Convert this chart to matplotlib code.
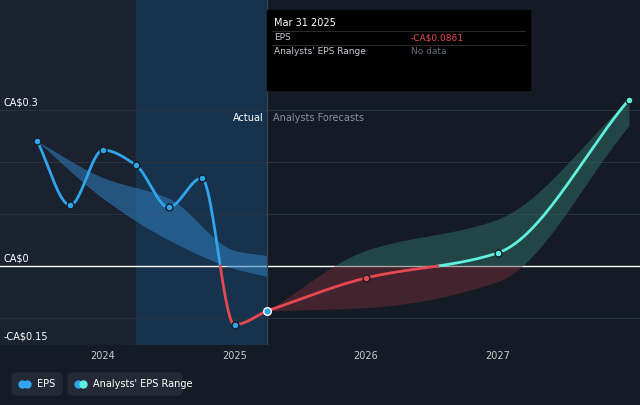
import matplotlib.pyplot as plt
import numpy as np
from matplotlib.patches import Rectangle, FancyBboxPatch

# data
act_x = [2023.5, 2023.75, 2024.0, 2024.25, 2024.5, 2024.75, 2025.0, 2025.25]
act_y = [0.24, 0.117, 0.223, 0.194, 0.113, 0.169, -0.113, -0.0861]
fc_x = [2025.25, 2026.0, 2027.0, 2028.0]
fc_y = [-0.0861, -0.023, 0.025, 0.32]
band_a_x = [2023.5, 2024.0, 2024.5, 2025.0, 2025.25]
band_a_hi = [0.24, 0.17, 0.13, 0.03, 0.02]
band_a_lo = [0.24, 0.13, 0.05, -0.005, -0.02]
band_f_x = [2025.25, 2026.0, 2027.0, 2028.0]
band_f_hi = [-0.0861, 0.03, 0.09, 0.32]
band_f_lo = [-0.0861, -0.08, -0.03, 0.27]
yticks = [-0.15, 0, 0.3]
ytick_labels = ["-CA$0.15", "CA$0", "CA$0.3"]
xticks = [2024, 2025, 2026, 2027]


def smooth(x, y, n=300):
    # monotone cubic (Fritsch-Carlson)
    x = np.asarray(x, float); y = np.asarray(y, float)
    h = np.diff(x); d = np.diff(y) / h
    m = np.zeros_like(y)
    m[0], m[-1] = d[0], d[-1]
    for i in range(1, len(x) - 1):
        if d[i-1] * d[i] > 0:
            m[i] = 2 / (1 / d[i-1] + 1 / d[i])
    t = np.linspace(x[0], x[-1], n)
    out = np.empty_like(t)
    for i, tv in enumerate(t):
        k = min(np.searchsorted(x, tv, side='right') - 1, len(x) - 2)
        s = (tv - x[k]) / h[k]
        h00 = 2*s**3 - 3*s**2 + 1; h10 = s**3 - 2*s**2 + s
        h01 = -2*s**3 + 3*s**2; h11 = s**3 - s**2
        out[i] = h00*y[k] + h10*h[k]*m[k] + h01*y[k+1] + h11*h[k]*m[k+1]
    return t, out


bg = '#151b24'
fig = plt.figure(figsize=(6.4, 4.05), dpi=100, facecolor=bg)
ax = fig.add_axes([0.0, 1 - 345/405, 1.0, 345/405])
ax.set_facecolor(bg)
x0 = 2024 - 103/131.5
x1 = x0 + 640/131.5
ax.set_xlim(x0, x1)
ax.set_ylim(-(345 - 266) * 0.3 / 156, 266 * 0.3 / 156)

# shaded actual region
ax.axvspan(x0, 2024.25, color='#1a2230', zorder=0)
ax.axvspan(2024.25, 2025.25, color='#16324c', zorder=0)

for v in [0.3, 0.2, 0.1, -0.1]:
    ax.axhline(v, color='#2a323d', lw=0.7, zorder=1)
ax.axhline(0, color='white', lw=1.0, zorder=2)

t, hi = smooth(band_a_x, band_a_hi); _, lo = smooth(band_a_x, band_a_lo)
ax.fill_between(t, lo, hi, color='#2f7fc0', alpha=0.55, lw=0, zorder=2)
t, hi = smooth(band_f_x, band_f_hi); _, lo = smooth(band_f_x, band_f_lo)
ax.fill_between(t, np.maximum(lo, 0), np.maximum(hi, 0), color='#2e6b62', alpha=0.55, lw=0, zorder=2)
ax.fill_between(t, np.minimum(lo, 0), np.minimum(hi, 0), color='#6a2a35', alpha=0.55, lw=0, zorder=2)


def colored(x, y, pos_color, neg_color):
    t, s = smooth(x, y, 500)
    ax.plot(t, np.where(s >= 0, s, np.nan), color=pos_color, lw=2, zorder=4)
    ax.plot(t, np.where(s <= 0, s, np.nan), color=neg_color, lw=2, zorder=4)


colored(act_x, act_y, '#2fa5ee', '#e8484f')
colored(fc_x, fc_y, '#5ff0e0', '#e8484f')
for xx, yy in zip(act_x[:-1], act_y[:-1]):
    ax.scatter(xx, yy, s=25, color='#2fa5ee', edgecolor=bg, lw=1, zorder=5)
for xx, yy in zip(fc_x[1:], fc_y[1:]):
    ax.scatter(xx, yy, s=25, color='#5ff0e0' if yy > 0 else '#e8484f', edgecolor=bg, lw=1, zorder=5)
ax.scatter(fc_x[0], fc_y[0], s=30, color='#2fa5ee', edgecolor='white', lw=1, zorder=6)

ax.axvline(2025.25, color='#3a4350', lw=0.8, zorder=3)
ax.text(2025.22, 0.285, "Actual", color='white', fontsize=7, ha='right', va='center')
ax.text(2025.29, 0.285, "Analysts Forecasts", color='#8a919a', fontsize=7, ha='left', va='center')

for v, lab in zip(yticks, ytick_labels):
    ax.text(x0 + 0.03, v + 0.004, lab, color='white', fontsize=7, va='bottom')
ax.set_xticks(xticks)
ax.set_xticklabels([str(x) for x in xticks])
ax.tick_params(axis='x', colors='#c8ccd2', labelsize=7, length=0, pad=4)
ax.set_yticks([])
for s in ax.spines.values():
    s.set_visible(False)

# tooltip
fig.patches.append(Rectangle((267/640, 1 - 90/405), 263/640, 80/405, transform=fig.transFigure,
                             color='black', zorder=10))
fig.text(274/640, 1 - 23/405, "Mar 31 2025", color='white', fontsize=7, zorder=11, va='center')
fig.text(274/640, 1 - 38/405, "EPS", color='#c8ccd2', fontsize=6.5, zorder=11, va='center')
fig.text(411/640, 1 - 38/405, "-CA$0.0861", color='#e8484f', fontsize=6.5, zorder=11, va='center')
fig.text(274/640, 1 - 51/405, "Analysts' EPS Range", color='#c8ccd2', fontsize=6.5, zorder=11, va='center')
fig.text(411/640, 1 - 51/405, "No data", color='#6a7079', fontsize=6.5, zorder=11, va='center')
for yy in [31, 45]:
    fig.add_artist(plt.Line2D([272/640, 525/640], [1 - yy/405] * 2, color='#333', lw=0.6, zorder=11))

# legend
for (lx, w, lab, c1, c2) in [(12, 50, "EPS", '#2fa5ee', '#2fa5ee'),
                              (68, 114, "Analysts' EPS Range", '#2fa5ee', '#5ff0e0')]:
    fig.patches.append(FancyBboxPatch((lx/640, 1 - 395/405), w/640, 22/405, transform=fig.transFigure,
                                      boxstyle='round,pad=0,rounding_size=0.008', color='#232a35'))
    fig.add_artist(plt.Line2D([(lx + 10)/640], [1 - 384/405], marker='o', ms=5, color=c1, lw=0))
    fig.add_artist(plt.Line2D([(lx + 15)/640], [1 - 384/405], marker='o', ms=5, color=c2, lw=0))
    fig.text((lx + 25)/640, 1 - 384/405, lab, color='white', fontsize=7, va='center')

fig.savefig('out.png', dpi=100, facecolor=bg)
